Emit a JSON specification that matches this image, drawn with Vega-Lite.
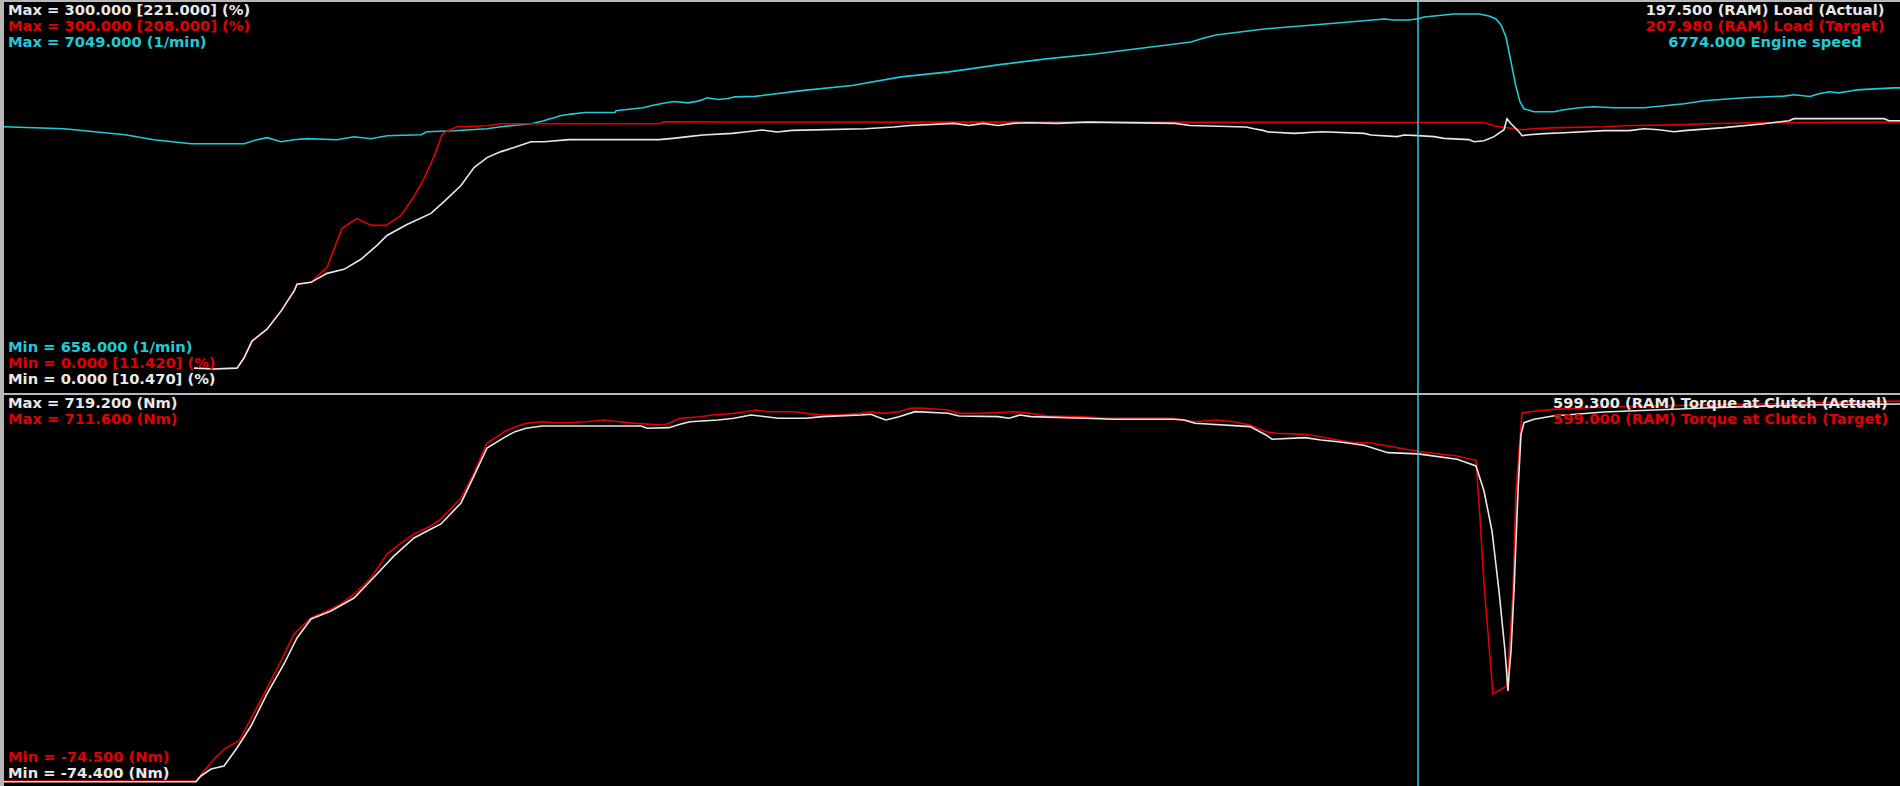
{
  "$schema": "https://vega.github.io/schema/vega-lite/v6.json",
  "background": "#b8b8b8",
  "padding": {"left": 0, "right": 0, "top": 1, "bottom": 1},
  "spacing": 2,
  "bounds": "flush",
  "config": {
    "view": {"fill": "#000000", "stroke": null},
    "text": {"font": "DejaVu Sans", "fontWeight": "bold", "fontSize": 14.7, "baseline": "middle"},
    "line": {"strokeWidth": 1.6, "clip": true},
    "legend": {"disable": true}
  },
  "datasets": {
    "load_target": [
      {"t": 1.92, "v": 19.5}, {"t": 1.97, "v": 19.1},
      {"t": 2.10, "v": 18.6}, {"t": 2.33, "v": 19.1}, {"t": 2.40, "v": 26.8}, {"t": 2.48, "v": 39.8},
      {"t": 2.63, "v": 49.0}, {"t": 2.77, "v": 62.8}, {"t": 2.90, "v": 78.1}, {"t": 2.93, "v": 83.4},
      {"t": 3.07, "v": 84.9}, {"t": 3.23, "v": 96.4}, {"t": 3.38, "v": 126.3}, {"t": 3.53, "v": 133.9},
      {"t": 3.67, "v": 128.6}, {"t": 3.82, "v": 128.6}, {"t": 3.97, "v": 136.2}, {"t": 4.10, "v": 150.8},
      {"t": 4.20, "v": 164.5}, {"t": 4.30, "v": 181.4}, {"t": 4.38, "v": 198.2}, {"t": 4.42, "v": 200.5},
      {"t": 4.53, "v": 204.3}, {"t": 4.83, "v": 205.1}, {"t": 4.97, "v": 206.6}, {"t": 6.55, "v": 206.6},
      {"t": 6.60, "v": 208.0}, {"t": 14.80, "v": 207.6}, {"t": 14.90, "v": 205.1}, {"t": 15.10, "v": 202.8},
      {"t": 15.20, "v": 202.0}, {"t": 15.27, "v": 202.8}, {"t": 15.55, "v": 203.6}, {"t": 16.00, "v": 204.3},
      {"t": 16.20, "v": 205.1}, {"t": 16.80, "v": 205.9}, {"t": 17.00, "v": 206.6}, {"t": 17.50, "v": 207.4},
      {"t": 19.00, "v": 207.9}
    ],
    "load_actual": [
      {"t": 1.90, "v": 19.1}, {"t": 2.10, "v": 18.4}, {"t": 2.33, "v": 19.1},
      {"t": 2.40, "v": 26.8}, {"t": 2.48, "v": 39.8}, {"t": 2.63, "v": 49.0}, {"t": 2.77, "v": 62.8},
      {"t": 2.90, "v": 78.1}, {"t": 2.93, "v": 83.4}, {"t": 3.07, "v": 84.9}, {"t": 3.23, "v": 91.8},
      {"t": 3.40, "v": 94.9}, {"t": 3.57, "v": 102.6}, {"t": 3.73, "v": 113.3}, {"t": 3.83, "v": 120.9},
      {"t": 4.03, "v": 129.3}, {"t": 4.27, "v": 137.8}, {"t": 4.40, "v": 146.9}, {"t": 4.57, "v": 159.2},
      {"t": 4.70, "v": 173.0}, {"t": 4.83, "v": 180.6}, {"t": 4.97, "v": 185.2}, {"t": 5.10, "v": 188.3},
      {"t": 5.27, "v": 192.8}, {"t": 5.40, "v": 192.8}, {"t": 5.65, "v": 194.4}, {"t": 6.55, "v": 194.4},
      {"t": 6.69, "v": 195.4}, {"t": 6.84, "v": 196.7}, {"t": 6.99, "v": 198.0}, {"t": 7.28, "v": 199.2},
      {"t": 7.43, "v": 200.5}, {"t": 7.58, "v": 201.8}, {"t": 7.73, "v": 200.3}, {"t": 7.88, "v": 201.5},
      {"t": 8.61, "v": 202.8}, {"t": 8.90, "v": 204.1}, {"t": 9.06, "v": 205.3}, {"t": 9.50, "v": 206.9},
      {"t": 9.65, "v": 205.3}, {"t": 9.79, "v": 206.9}, {"t": 9.94, "v": 205.3}, {"t": 10.09, "v": 206.9},
      {"t": 10.24, "v": 207.4}, {"t": 10.53, "v": 206.9}, {"t": 10.83, "v": 207.8}, {"t": 11.71, "v": 206.9},
      {"t": 11.86, "v": 205.3}, {"t": 12.42, "v": 204.1}, {"t": 12.50, "v": 202.8}, {"t": 12.59, "v": 201.5},
      {"t": 12.64, "v": 200.3}, {"t": 12.90, "v": 199.2}, {"t": 13.18, "v": 200.5}, {"t": 13.60, "v": 199.2},
      {"t": 13.67, "v": 198.0}, {"t": 13.93, "v": 196.7}, {"t": 14.00, "v": 198.0}, {"t": 14.14, "v": 197.5},
      {"t": 14.30, "v": 196.7}, {"t": 14.40, "v": 195.4}, {"t": 14.65, "v": 194.4}, {"t": 14.70, "v": 192.8},
      {"t": 14.80, "v": 193.6}, {"t": 14.90, "v": 196.7}, {"t": 15.00, "v": 202.0}, {"t": 15.03, "v": 210.5},
      {"t": 15.07, "v": 206.6}, {"t": 15.15, "v": 200.5}, {"t": 15.18, "v": 197.4}, {"t": 15.25, "v": 198.2},
      {"t": 15.40, "v": 199.0}, {"t": 15.60, "v": 199.7}, {"t": 16.00, "v": 201.3}, {"t": 16.25, "v": 201.3},
      {"t": 16.40, "v": 202.8}, {"t": 16.55, "v": 202.0}, {"t": 16.70, "v": 200.5}, {"t": 16.80, "v": 201.3},
      {"t": 17.20, "v": 203.6}, {"t": 17.60, "v": 206.6}, {"t": 17.85, "v": 208.9}, {"t": 17.90, "v": 210.5},
      {"t": 18.80, "v": 210.5}, {"t": 18.85, "v": 208.9}, {"t": 19.00, "v": 208.9}
    ],
    "engine_speed": [
      {"t": 0.00, "v": 5010}, {"t": 0.60, "v": 4978}, {"t": 1.21, "v": 4880}, {"t": 1.50, "v": 4798},
      {"t": 1.87, "v": 4733}, {"t": 2.40, "v": 4733}, {"t": 2.53, "v": 4798}, {"t": 2.63, "v": 4831},
      {"t": 2.77, "v": 4766}, {"t": 2.90, "v": 4798}, {"t": 3.03, "v": 4815}, {"t": 3.33, "v": 4798},
      {"t": 3.50, "v": 4847}, {"t": 3.67, "v": 4815}, {"t": 3.83, "v": 4863}, {"t": 4.17, "v": 4880},
      {"t": 4.23, "v": 4929}, {"t": 4.50, "v": 4945}, {"t": 4.83, "v": 4978}, {"t": 4.97, "v": 5010},
      {"t": 5.27, "v": 5059}, {"t": 5.40, "v": 5108}, {"t": 5.45, "v": 5136}, {"t": 5.51, "v": 5162},
      {"t": 5.56, "v": 5189}, {"t": 5.67, "v": 5217}, {"t": 5.81, "v": 5243}, {"t": 6.11, "v": 5243},
      {"t": 6.12, "v": 5271}, {"t": 6.27, "v": 5299}, {"t": 6.39, "v": 5320}, {"t": 6.47, "v": 5352},
      {"t": 6.58, "v": 5390}, {"t": 6.70, "v": 5422}, {"t": 6.84, "v": 5401}, {"t": 6.94, "v": 5429},
      {"t": 6.99, "v": 5455}, {"t": 7.03, "v": 5483}, {"t": 7.14, "v": 5455}, {"t": 7.24, "v": 5471},
      {"t": 7.31, "v": 5499}, {"t": 7.51, "v": 5507}, {"t": 8.00, "v": 5605}, {"t": 8.48, "v": 5685},
      {"t": 8.97, "v": 5825}, {"t": 9.45, "v": 5907}, {"t": 9.94, "v": 6021}, {"t": 10.42, "v": 6119},
      {"t": 10.91, "v": 6200}, {"t": 11.39, "v": 6298}, {"t": 11.87, "v": 6396}, {"t": 12.00, "v": 6461},
      {"t": 12.12, "v": 6510}, {"t": 12.60, "v": 6608}, {"t": 13.09, "v": 6673}, {"t": 13.57, "v": 6738},
      {"t": 13.80, "v": 6771}, {"t": 13.90, "v": 6754}, {"t": 14.05, "v": 6754}, {"t": 14.14, "v": 6774},
      {"t": 14.20, "v": 6803}, {"t": 14.50, "v": 6852}, {"t": 14.75, "v": 6852}, {"t": 14.85, "v": 6819},
      {"t": 14.92, "v": 6771}, {"t": 14.97, "v": 6673}, {"t": 15.02, "v": 6477}, {"t": 15.07, "v": 6070},
      {"t": 15.12, "v": 5662}, {"t": 15.16, "v": 5418}, {"t": 15.20, "v": 5304}, {"t": 15.30, "v": 5255},
      {"t": 15.50, "v": 5255}, {"t": 15.60, "v": 5287}, {"t": 15.75, "v": 5320}, {"t": 15.90, "v": 5336},
      {"t": 16.10, "v": 5320}, {"t": 16.40, "v": 5320}, {"t": 16.60, "v": 5352}, {"t": 16.80, "v": 5385},
      {"t": 17.00, "v": 5434}, {"t": 17.40, "v": 5483}, {"t": 17.80, "v": 5511}, {"t": 17.90, "v": 5532},
      {"t": 18.06, "v": 5504}, {"t": 18.15, "v": 5548}, {"t": 18.25, "v": 5581}, {"t": 18.35, "v": 5564},
      {"t": 18.48, "v": 5597}, {"t": 18.53, "v": 5613}, {"t": 18.90, "v": 5646}, {"t": 19.00, "v": 5646}
    ],
    "torque_target": [
      {"t": 0.00, "v": -74.5}, {"t": 1.92, "v": -74.5}, {"t": 2.00, "v": -54.1}, {"t": 2.12, "v": -25.4},
      {"t": 2.22, "v": -7.1}, {"t": 2.35, "v": 7.2}, {"t": 2.43, "v": 37.9}, {"t": 2.60, "v": 103.3},
      {"t": 2.77, "v": 170.7}, {"t": 2.90, "v": 225.9}, {"t": 3.07, "v": 258.6}, {"t": 3.23, "v": 272.9},
      {"t": 3.37, "v": 287.2}, {"t": 3.50, "v": 307.6}, {"t": 3.67, "v": 340.3}, {"t": 3.83, "v": 389.3},
      {"t": 3.97, "v": 411.8}, {"t": 4.10, "v": 430.2}, {"t": 4.27, "v": 446.6}, {"t": 4.37, "v": 460.9},
      {"t": 4.57, "v": 503.8}, {"t": 4.70, "v": 554.9}, {"t": 4.83, "v": 616.2}, {"t": 4.97, "v": 634.5},
      {"t": 5.00, "v": 639.2}, {"t": 5.11, "v": 648.8}, {"t": 5.22, "v": 656.4}, {"t": 5.38, "v": 659.7},
      {"t": 5.55, "v": 657.0}, {"t": 5.82, "v": 659.7}, {"t": 5.99, "v": 663.1}, {"t": 6.15, "v": 659.7},
      {"t": 6.32, "v": 656.4}, {"t": 6.59, "v": 652.9}, {"t": 6.65, "v": 656.4}, {"t": 6.76, "v": 666.6},
      {"t": 6.97, "v": 669.9}, {"t": 7.08, "v": 673.4}, {"t": 7.30, "v": 676.8}, {"t": 7.41, "v": 680.1},
      {"t": 7.52, "v": 683.6}, {"t": 7.63, "v": 680.1}, {"t": 7.91, "v": 680.1}, {"t": 8.02, "v": 676.8},
      {"t": 8.18, "v": 673.4}, {"t": 8.35, "v": 673.4}, {"t": 8.57, "v": 676.8}, {"t": 8.67, "v": 680.1},
      {"t": 8.78, "v": 676.8}, {"t": 8.95, "v": 680.1}, {"t": 9.06, "v": 687.1}, {"t": 9.17, "v": 687.7},
      {"t": 9.44, "v": 683.6}, {"t": 9.55, "v": 676.8}, {"t": 9.77, "v": 676.8}, {"t": 10.10, "v": 680.1},
      {"t": 10.27, "v": 676.8}, {"t": 10.43, "v": 671.3}, {"t": 10.81, "v": 669.9}, {"t": 11.03, "v": 666.6},
      {"t": 11.69, "v": 666.6}, {"t": 11.80, "v": 663.1}, {"t": 11.91, "v": 659.7}, {"t": 12.13, "v": 663.1},
      {"t": 12.30, "v": 659.7}, {"t": 12.46, "v": 652.9}, {"t": 12.62, "v": 639.2}, {"t": 12.73, "v": 636.0},
      {"t": 13.01, "v": 633.9}, {"t": 13.17, "v": 629.0}, {"t": 13.34, "v": 622.3}, {"t": 13.50, "v": 616.8},
      {"t": 13.65, "v": 616.8}, {"t": 14.15, "v": 599.0}, {"t": 14.53, "v": 589.6}, {"t": 14.72, "v": 580.8},
      {"t": 14.76, "v": 463.5}, {"t": 14.80, "v": 328.0}, {"t": 14.89, "v": 103.9}, {"t": 15.03, "v": 119.6},
      {"t": 15.09, "v": 313.7}, {"t": 15.12, "v": 518.1}, {"t": 15.18, "v": 678.1}, {"t": 15.49, "v": 685.0},
      {"t": 16.00, "v": 689.7}, {"t": 17.00, "v": 693.8}, {"t": 18.00, "v": 697.9}, {"t": 19.00, "v": 702.0}
    ],
    "torque_actual": [
      {"t": 0.00, "v": -74.4}, {"t": 1.92, "v": -74.4}, {"t": 1.97, "v": -62.6}, {"t": 2.07, "v": -48.3},
      {"t": 2.20, "v": -42.1}, {"t": 2.33, "v": -5.1}, {"t": 2.47, "v": 40.1}, {"t": 2.63, "v": 105.9},
      {"t": 2.80, "v": 167.5}, {"t": 2.93, "v": 220.9}, {"t": 3.07, "v": 260.0}, {"t": 3.27, "v": 276.4},
      {"t": 3.50, "v": 303.1}, {"t": 3.73, "v": 352.5}, {"t": 3.90, "v": 389.5}, {"t": 4.10, "v": 426.4},
      {"t": 4.27, "v": 444.9}, {"t": 4.37, "v": 455.2}, {"t": 4.57, "v": 498.4}, {"t": 4.70, "v": 553.9},
      {"t": 4.83, "v": 611.4}, {"t": 5.00, "v": 632.6}, {"t": 5.11, "v": 644.9}, {"t": 5.22, "v": 651.9},
      {"t": 5.38, "v": 656.6}, {"t": 6.37, "v": 656.6}, {"t": 6.43, "v": 651.9}, {"t": 6.65, "v": 653.1},
      {"t": 6.76, "v": 660.1}, {"t": 6.86, "v": 665.4}, {"t": 7.14, "v": 668.9}, {"t": 7.30, "v": 672.4},
      {"t": 7.47, "v": 679.2}, {"t": 7.74, "v": 672.4}, {"t": 8.02, "v": 672.4}, {"t": 8.18, "v": 675.7},
      {"t": 8.57, "v": 679.2}, {"t": 8.67, "v": 680.6}, {"t": 8.73, "v": 675.7}, {"t": 8.82, "v": 668.9},
      {"t": 8.95, "v": 675.7}, {"t": 9.11, "v": 686.0}, {"t": 9.44, "v": 682.7}, {"t": 9.55, "v": 677.2},
      {"t": 9.94, "v": 675.7}, {"t": 10.05, "v": 672.4}, {"t": 10.16, "v": 679.2}, {"t": 10.27, "v": 675.7},
      {"t": 10.81, "v": 672.4}, {"t": 11.09, "v": 670.4}, {"t": 11.69, "v": 670.4}, {"t": 11.80, "v": 668.9},
      {"t": 11.91, "v": 662.1}, {"t": 12.46, "v": 655.2}, {"t": 12.62, "v": 638.1}, {"t": 12.68, "v": 629.3},
      {"t": 13.01, "v": 632.6}, {"t": 13.17, "v": 627.8}, {"t": 13.34, "v": 624.3}, {"t": 13.60, "v": 616.9},
      {"t": 13.84, "v": 601.7}, {"t": 14.14, "v": 599.3}, {"t": 14.53, "v": 588.2}, {"t": 14.72, "v": 574.4},
      {"t": 14.80, "v": 523.0}, {"t": 14.88, "v": 440.8}, {"t": 14.95, "v": 317.5}, {"t": 15.01, "v": 194.2},
      {"t": 15.04, "v": 112.0}, {"t": 15.05, "v": 146.3}, {"t": 15.07, "v": 194.2}, {"t": 15.10, "v": 317.5},
      {"t": 15.14, "v": 523.0}, {"t": 15.17, "v": 639.5}, {"t": 15.20, "v": 663.4}, {"t": 15.30, "v": 670.4},
      {"t": 15.49, "v": 677.2}, {"t": 16.00, "v": 685.4}, {"t": 17.00, "v": 693.6}, {"t": 18.00, "v": 699.8},
      {"t": 19.00, "v": 701.8}
    ],
    "cursor": [{"t": 14.14}],
    "labels": [
      {"panel": "top", "side": "left", "line": 0, "signal": "Load (Actual)", "text": "Max = 300.000 [221.000] (%)"},
      {"panel": "top", "side": "left", "line": 1, "signal": "Load (Target)", "text": "Max = 300.000 [208.000] (%)"},
      {"panel": "top", "side": "left", "line": 2, "signal": "Engine speed", "text": "Max = 7049.000 (1/min)"},
      {"panel": "top", "side": "left", "line": 21, "signal": "Engine speed", "text": "Min = 658.000 (1/min)"},
      {"panel": "top", "side": "left", "line": 22, "signal": "Load (Target)", "text": "Min = 0.000 [11.420] (%)"},
      {"panel": "top", "side": "left", "line": 23, "signal": "Load (Actual)", "text": "Min = 0.000 [10.470] (%)"},
      {"panel": "top", "side": "right", "line": 0, "signal": "Load (Actual)", "text": "197.500 (RAM) Load (Actual)"},
      {"panel": "top", "side": "right", "line": 1, "signal": "Load (Target)", "text": "207.980 (RAM) Load (Target)"},
      {"panel": "top", "side": "right", "line": 2, "signal": "Engine speed", "text": "6774.000 Engine speed"},
      {"panel": "bottom", "side": "left", "line": 0, "signal": "Torque at Clutch (Actual)", "text": "Max = 719.200 (Nm)"},
      {"panel": "bottom", "side": "left", "line": 1, "signal": "Torque at Clutch (Target)", "text": "Max = 711.600 (Nm)"},
      {"panel": "bottom", "side": "left", "line": 22, "signal": "Torque at Clutch (Target)", "text": "Min = -74.500 (Nm)"},
      {"panel": "bottom", "side": "left", "line": 23, "signal": "Torque at Clutch (Actual)", "text": "Min = -74.400 (Nm)"},
      {"panel": "bottom", "side": "right", "line": 0, "signal": "Torque at Clutch (Actual)", "text": "599.300 (RAM) Torque at Clutch (Actual)"},
      {"panel": "bottom", "side": "right", "line": 1, "signal": "Torque at Clutch (Target)", "text": "599.000 (RAM) Torque at Clutch (Target)"}
    ]
  },
  "vconcat": [
    {
      "width": 1900,
      "height": 391,
      "resolve": {"scale": {"y": "independent"}},
      "layer": [
        {
          "data": {"name": "engine_speed"},
          "mark": {"type": "line"},
          "encoding": {
            "x": {"field": "t", "type": "quantitative", "scale": {"domain": [0, 19], "nice": false}, "axis": null},
            "y": {"field": "v", "type": "quantitative", "scale": {"domain": [658, 7049], "nice": false, "zero": false}, "axis": null},
            "color": {"datum": "Engine speed", "type": "nominal", "scale": {"domain": ["Load (Actual)", "Load (Target)", "Engine speed", "Torque at Clutch (Actual)", "Torque at Clutch (Target)"], "range": ["#e8e8e8", "#e00000", "#22cad8", "#e8e8e8", "#e00000"]}, "legend": null}
          }
        },
        {
          "data": {"name": "load_target"},
          "mark": {"type": "line"},
          "encoding": {
            "x": {"field": "t", "type": "quantitative", "scale": {"domain": [0, 19], "nice": false}, "axis": null},
            "y": {"field": "v", "type": "quantitative", "scale": {"domain": [0, 300], "nice": false}, "axis": null},
            "color": {"datum": "Load (Target)", "type": "nominal", "legend": null}
          }
        },
        {
          "data": {"name": "load_actual"},
          "mark": {"type": "line"},
          "encoding": {
            "x": {"field": "t", "type": "quantitative", "scale": {"domain": [0, 19], "nice": false}, "axis": null},
            "y": {"field": "v", "type": "quantitative", "scale": {"domain": [0, 300], "nice": false}, "axis": null},
            "color": {"datum": "Load (Actual)", "type": "nominal", "legend": null}
          }
        },
        {
          "data": {"name": "cursor"},
          "mark": {"type": "rule", "color": "#2ccfdf", "strokeWidth": 1.5},
          "encoding": {
            "x": {"field": "t", "type": "quantitative", "scale": {"domain": [0, 19], "nice": false}, "axis": null}
          }
        },
        {
          "data": {"name": "labels"},
          "transform": [{"filter": "datum.panel === 'top' && datum.side === 'left'"}],
          "mark": {"type": "text", "align": "left", "dx": 4},
          "encoding": {
            "x": {"datum": 0, "type": "quantitative", "scale": {"domain": [0, 19], "nice": false}, "axis": null},
            "y": {"field": "line", "type": "quantitative", "scale": {"domain": [-0.561, 23.83], "reverse": true, "nice": false, "zero": false}, "axis": null},
            "text": {"field": "text"},
            "color": {"field": "signal", "type": "nominal", "legend": null}
          }
        },
        {
          "data": {"name": "labels"},
          "transform": [{"filter": "datum.panel === 'top' && datum.side === 'right'"}],
          "mark": {"type": "text", "align": "center", "dx": -139},
          "encoding": {
            "x": {"datum": 19, "type": "quantitative", "scale": {"domain": [0, 19], "nice": false}, "axis": null},
            "y": {"field": "line", "type": "quantitative", "scale": {"domain": [-0.561, 23.83], "reverse": true, "nice": false, "zero": false}, "axis": null},
            "text": {"field": "text"},
            "color": {"field": "signal", "type": "nominal", "legend": null}
          }
        }
      ]
    },
    {
      "width": 1900,
      "height": 391,
      "resolve": {"scale": {"y": "independent"}},
      "layer": [
        {
          "data": {"name": "torque_target"},
          "mark": {"type": "line"},
          "encoding": {
            "x": {"field": "t", "type": "quantitative", "scale": {"domain": [0, 19], "nice": false}, "axis": null},
            "y": {"field": "v", "type": "quantitative", "scale": {"domain": [-84.7, 714.3], "nice": false, "zero": false}, "axis": null},
            "color": {"datum": "Torque at Clutch (Target)", "type": "nominal", "legend": null}
          }
        },
        {
          "data": {"name": "torque_actual"},
          "mark": {"type": "line"},
          "encoding": {
            "x": {"field": "t", "type": "quantitative", "scale": {"domain": [0, 19], "nice": false}, "axis": null},
            "y": {"field": "v", "type": "quantitative", "scale": {"domain": [-83.2, 720.2], "nice": false, "zero": false}, "axis": null},
            "color": {"datum": "Torque at Clutch (Actual)", "type": "nominal", "legend": null}
          }
        },
        {
          "data": {"name": "cursor"},
          "mark": {"type": "rule", "color": "#2ccfdf", "strokeWidth": 1.5},
          "encoding": {
            "x": {"field": "t", "type": "quantitative", "scale": {"domain": [0, 19], "nice": false}, "axis": null}
          }
        },
        {
          "data": {"name": "labels"},
          "transform": [{"filter": "datum.panel === 'bottom' && datum.side === 'left'"}],
          "mark": {"type": "text", "align": "left", "dx": 4},
          "encoding": {
            "x": {"datum": 0, "type": "quantitative", "scale": {"domain": [0, 19], "nice": false}, "axis": null},
            "y": {"field": "line", "type": "quantitative", "scale": {"domain": [-0.578, 23.72], "reverse": true, "nice": false, "zero": false}, "axis": null},
            "text": {"field": "text"},
            "color": {"field": "signal", "type": "nominal", "legend": null}
          }
        },
        {
          "data": {"name": "labels"},
          "transform": [{"filter": "datum.panel === 'bottom' && datum.side === 'right'"}],
          "mark": {"type": "text", "align": "left", "dx": -351},
          "encoding": {
            "x": {"datum": 19, "type": "quantitative", "scale": {"domain": [0, 19], "nice": false}, "axis": null},
            "y": {"field": "line", "type": "quantitative", "scale": {"domain": [-0.578, 23.72], "reverse": true, "nice": false, "zero": false}, "axis": null},
            "text": {"field": "text"},
            "color": {"field": "signal", "type": "nominal", "legend": null}
          }
        }
      ]
    }
  ],
  "resolve": {"scale": {"color": "shared"}}
}
